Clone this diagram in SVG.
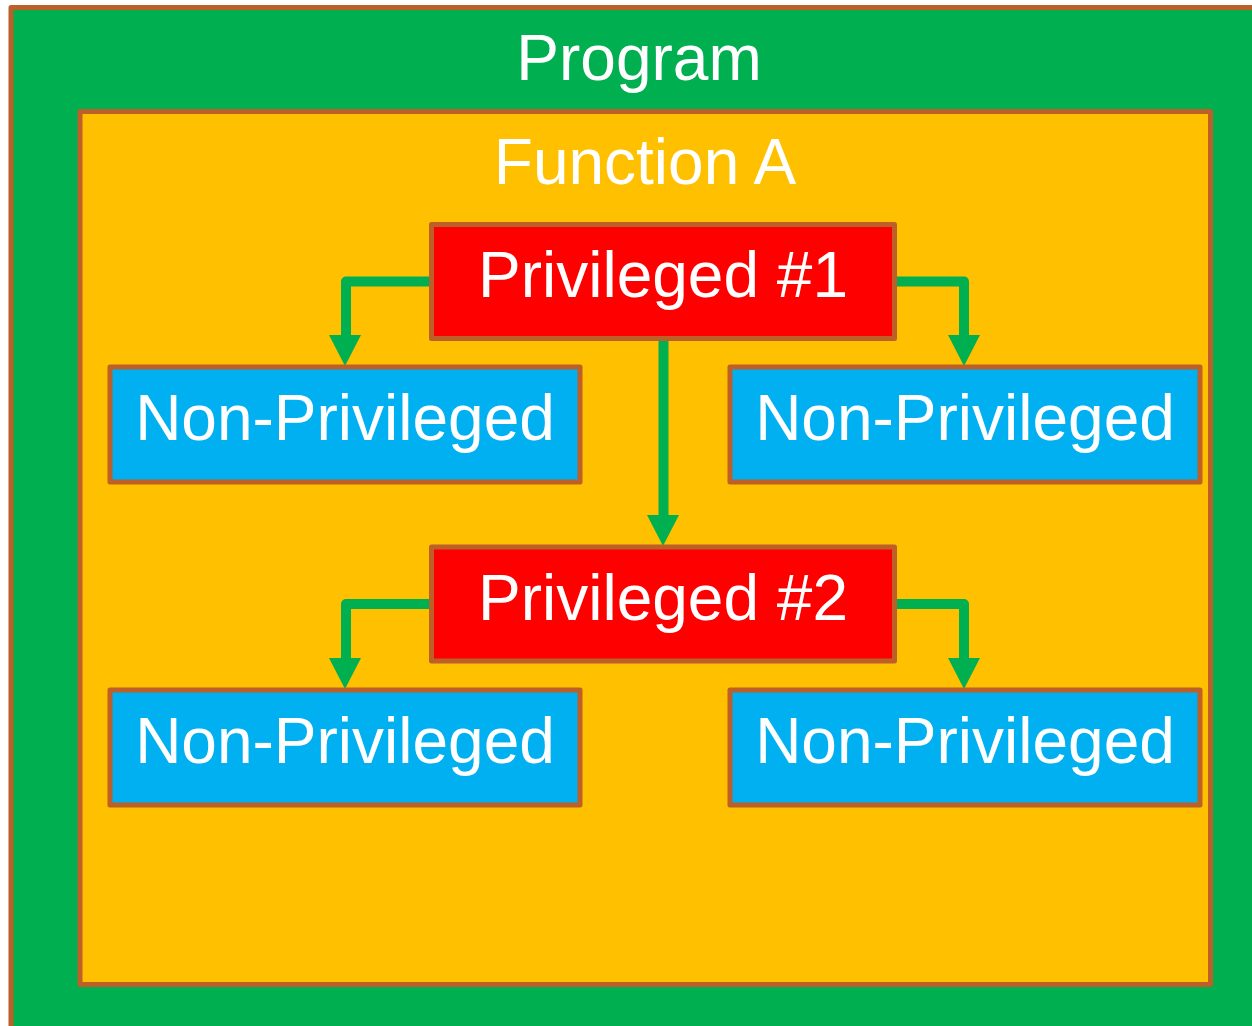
<svg xmlns="http://www.w3.org/2000/svg" width="1252" height="1026" viewBox="0 0 1252 1026">
<style>
.box{stroke:#BC5F28;stroke-width:5;stroke-linejoin:round}
.t{font-family:"Liberation Sans",Arial,sans-serif;fill:#fff;text-anchor:middle;font-size:64px}
.c{fill:none;stroke:#00B050;stroke-width:10;stroke-linejoin:round}
.h{fill:#00B050}
</style>
<rect width="1252" height="1026" fill="#fff"/>
<g id="program">
<rect class="box" x="11" y="7.5" width="1250" height="1030" fill="#00B050"/>
<text class="t" x="639" y="80">Program</text>
</g>
<g id="functionA">
<rect class="box" x="80" y="111.5" width="1130.5" height="873" fill="#FFC000"/>
<text class="t" x="645" y="184">Function A</text>
</g>
<g id="connectors">
<path class="c" d="M431,281.5 H346 V336"/>
<polygon class="h" points="329,335 361,335 345,366"/>
<path class="c" d="M895,281.5 H964 V336"/>
<polygon class="h" points="948,335 980,335 964,366"/>
<path class="c" d="M663.5,338 V516"/>
<polygon class="h" points="647,515 679,515 663,546"/>
<path class="c" d="M431,604 H346 V659"/>
<polygon class="h" points="329,658 361,658 345,689"/>
<path class="c" d="M895,604 H964 V659"/>
<polygon class="h" points="948,658 980,658 964,689"/>
</g>
<g id="priv1">
<rect class="box" x="431.5" y="224.5" width="463" height="114" fill="#FF0000"/>
<text class="t" x="663" y="297">Privileged #1</text>
</g>
<g id="np1">
<rect class="box" x="110" y="367" width="470" height="115" fill="#00B0F0"/>
<text class="t" x="345" y="440">Non-Privileged</text>
</g>
<g id="np2">
<rect class="box" x="730" y="367" width="470" height="115" fill="#00B0F0"/>
<text class="t" x="965" y="440">Non-Privileged</text>
</g>
<g id="priv2">
<rect class="box" x="431.5" y="547" width="463" height="114" fill="#FF0000"/>
<text class="t" x="663" y="620">Privileged #2</text>
</g>
<g id="np3">
<rect class="box" x="110" y="690" width="470" height="115" fill="#00B0F0"/>
<text class="t" x="345" y="763">Non-Privileged</text>
</g>
<g id="np4">
<rect class="box" x="730" y="690" width="470" height="115" fill="#00B0F0"/>
<text class="t" x="965" y="763">Non-Privileged</text>
</g>
</svg>
